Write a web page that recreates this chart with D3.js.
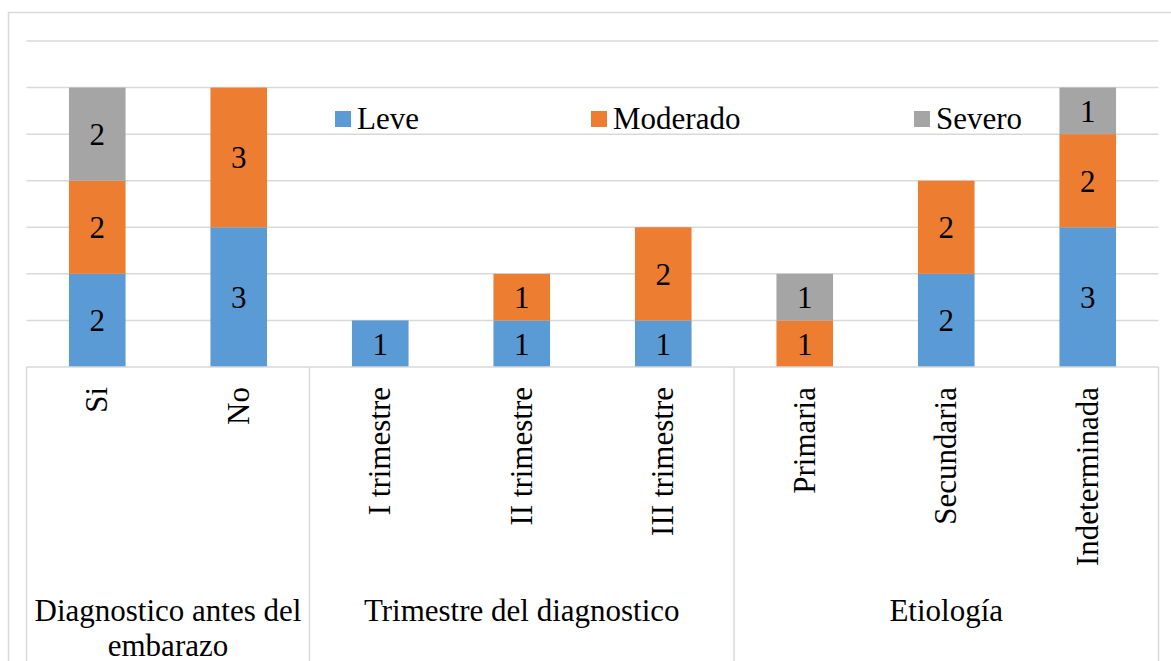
<!DOCTYPE html>
<html>
<head>
<meta charset="utf-8">
<script src="https://cdn.jsdelivr.net/npm/d3@7"></script>
<style>
  body { margin: 0; background: #fff; }
  svg { display: block; }
</style>
</head>
<body>
<div id="chart"></div>
<script>
// Categories and their groups
const categories = ['Si', 'No', 'I trimestre', 'II trimestre', 'III trimestre', 'Primaria', 'Secundaria', 'Indeterminada'];
const groups = [
    { label: ['Diagnostico antes del', 'embarazo'], from: 0, to: 1 },
    { label: ['Trimestre del diagnostico'], from: 2, to: 4 },
    { label: ['Etiología'], from: 5, to: 7 }
];

// Series values
const series = ['Leve', 'Moderado', 'Severo'];
const leve = [2, 3, 1, 1, 1, 0, 2, 3];
const moderado = [2, 3, 0, 1, 2, 1, 2, 2];
const severo = [2, 0, 0, 0, 0, 1, 0, 1];
const yTicks = [0, 1, 2, 3, 4, 5, 6, 7];

const colors = { Leve: '#5B9BD5', Moderado: '#ED7D31', Severo: '#A5A5A5' };

const width = 1171, height = 661;
const plot = { left: 26.5, right: 1158.5, top: 41, bottom: 367 };
const textStyle = "font-family:'Liberation Serif';font-size:31px";

let svg = d3.select('#chart').append('svg')
    .attr('width', width)
    .attr('height', height);

// Outer chart border (runs past the window on right and bottom)
svg.append('rect')
    .attr('x', 8.5).attr('y', 12.5)
    .attr('width', width + 10).attr('height', height + 10)
    .attr('fill', '#fff')
    .attr('stroke', '#d9d9d9')
    .attr('stroke-width', 1.5);

// Build table for stacking
let table = categories.map((c, i) => ({ cat: c, Leve: leve[i], Moderado: moderado[i], Severo: severo[i] }));
let stacked = d3.stack().keys(series)(table);

let xScale = d3.scaleBand()
    .domain(categories)
    .range([plot.left, plot.right])
    .paddingInner(0.6)
    .paddingOuter(0.3);

let yScale = d3.scaleLinear()
    .domain([0, 7])
    .range([plot.bottom, plot.top]);

// Gridlines
svg.append('g')
    .selectAll('line')
    .data(yTicks.slice(1))
    .enter()
    .append('line')
    .attr('x1', plot.left).attr('x2', plot.right)
    .attr('y1', d => yScale(d)).attr('y2', d => yScale(d))
    .attr('stroke', '#d9d9d9')
    .attr('stroke-width', 1.5);

// Bars
let segments = [];
stacked.forEach(layer => {
    layer.forEach((v, i) => {
        if (v[1] > v[0]) segments.push({ key: layer.key, cat: categories[i], y0: v[0], y1: v[1] });
    });
});

svg.append('g')
    .selectAll('rect')
    .data(segments)
    .enter()
    .append('rect')
    .attr('x', d => xScale(d.cat))
    .attr('y', d => yScale(d.y1))
    .attr('width', xScale.bandwidth())
    .attr('height', d => yScale(d.y0) - yScale(d.y1))
    .attr('fill', d => colors[d.key]);

// Data labels, centred in each segment
svg.append('g')
    .selectAll('text')
    .data(segments)
    .enter()
    .append('text')
    .attr('x', d => xScale(d.cat) + xScale.bandwidth() / 2)
    .attr('y', d => (yScale(d.y0) + yScale(d.y1)) / 2 + 11)
    .attr('text-anchor', 'middle')
    .attr('style', textStyle)
    .text(d => d.y1 - d.y0);

// Category axis: baseline and group separators
let step = xScale.step();
let axis = svg.append('g')
    .attr('stroke', '#d9d9d9')
    .attr('stroke-width', 1.5);

axis.append('line')
    .attr('x1', plot.left).attr('x2', plot.right)
    .attr('y1', plot.bottom).attr('y2', plot.bottom);

let separators = [0].concat(groups.map(g => g.to + 1));
axis.selectAll('line.sep')
    .data(separators)
    .enter()
    .append('line')
    .attr('class', 'sep')
    .attr('x1', d => plot.left + d * step).attr('x2', d => plot.left + d * step)
    .attr('y1', plot.bottom).attr('y2', height + 5);

// Rotated category labels (end of text at the top)
svg.append('g')
    .selectAll('text')
    .data(categories)
    .enter()
    .append('text')
    .attr('transform', d => `translate(${xScale(d) + xScale.bandwidth() / 2 + 10},387) rotate(-90)`)
    .attr('text-anchor', 'end')
    .attr('style', textStyle)
    .text(d => d);

// Group labels
groups.forEach(g => {
    let cx = plot.left + (g.from + g.to + 1) / 2 * step;
    g.label.forEach((l, i) => {
        svg.append('text')
            .attr('x', cx)
            .attr('y', 621 + i * 35)
            .attr('text-anchor', 'middle')
            .attr('style', textStyle)
            .text(l);
    });
});

// Legend
const legendX = [335, 591, 914];
svg.append('g')
    .selectAll('rect')
    .data(series)
    .enter()
    .append('rect')
    .attr('x', (d, i) => legendX[i]).attr('y', 111)
    .attr('width', 16).attr('height', 16)
    .attr('fill', d => colors[d]);

svg.append('g')
    .selectAll('text')
    .data(series)
    .enter()
    .append('text')
    .attr('x', (d, i) => legendX[i] + 22)
    .attr('y', 129)
    .attr('style', textStyle)
    .text(d => d);
</script>
</body>
</html>
